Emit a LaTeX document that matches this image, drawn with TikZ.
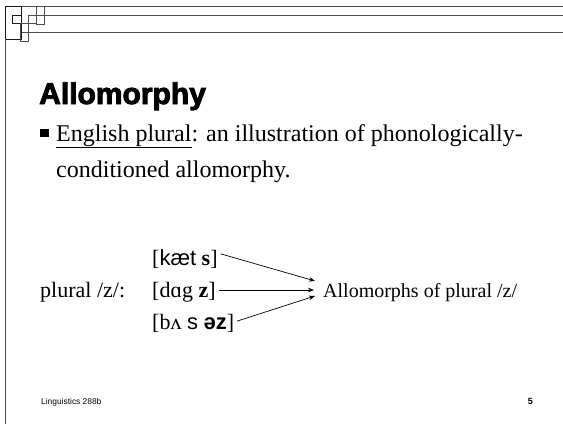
\documentclass[tikz,border=0pt]{standalone}
\usepackage{fontspec}
\setmainfont{Liberation Serif}
\newfontfamily\sansipa{Liberation Sans}
\newfontfamily\titlefont[BoldFeatures={FakeBold=3}]{Liberation Sans}
\usetikzlibrary{arrows.meta}
\tikzset{
  hdr/.style={draw=black!70, line width=0.7pt},
  hdrbox/.style={draw=black!90, line width=0.9pt},
  txt/.style={anchor=base west, inner sep=0pt, font=\fontsize{22}{26}\selectfont},
  body/.style={anchor=base west, inner sep=0pt, font=\fontsize{24}{28}\selectfont},
  arr/.style={-{Stealth[length=6pt,width=4.5pt]}, line width=0.7pt, shorten <=3pt}
}
\begin{document}
\begin{tikzpicture}[x=1pt,y=-1pt]
\useasboundingbox (0,0) rectangle (563,424);
% header ornament
\draw[hdr] (21,6.5) -- (563,6.5);
\draw[hdr] (28,15) -- (563,15);
\draw[hdr] (20,32) -- (563,32);
\draw[hdrbox] (5,6) rectangle (21,39);
\draw[hdrbox] (12,15) rectangle (21,23);
\draw[hdr] (20,23) rectangle (28,41);
\draw[hdr] (21,23) -- (36,23);
\draw[hdr] (28,15) -- (28,32);
\draw[hdr] (36,6) rectangle (44,24);
\draw[black!70, line width=0.7pt] (5,39) -- (5,424);
% title
\node[anchor=base west, inner sep=0pt, font=\titlefont\bfseries\fontsize{30}{32}\selectfont] (title) at (39,104) {Allomorphy};
% bullet
\node[fill=black, minimum size=8.5pt, inner sep=0pt] (bul) at (44.5,133) {};
\node[body] (l1) at (56,141) {\underline{English plural}: an illustration of phonologically-};
\node[body] (l2) at (56,177) {conditioned allomorphy.};
% forms
\node[txt] (f1) at (152,265) {[{\sansipa kæt} \textbf{s}]};
\node[txt] (pl) at (40,297) {plural /z/:};
\node[txt] (f2) at (152,297) {[dɑg \textbf{z}]};
\node[txt] (f3) at (152,329) {[bʌ {\sansipa s} \textbf{\sansipa əz}]};
\node[anchor=base west, inner sep=0pt, font=\fontsize{20}{24}\selectfont] (res) at (323,297) {Allomorphs of plural /z/};
\coordinate (t1) at (315,281);
\coordinate (t2) at (314,290);
\coordinate (t3) at (315,296);
\draw[arr] (f1.east |- 0,253) -- (t1);
\draw[arr] (f2.east |- 0,290) -- (t2);
\draw[arr] (f3.east |- 0,322) -- (t3);
% footer
\node[anchor=base west, inner sep=0pt, font=\sansipa\fontsize{8.4}{10}\selectfont] (foot) at (41,404) {Linguistics 288b};
\node[anchor=base east, inner sep=0pt, font=\sansipa\bfseries\fontsize{9}{10}\selectfont] (num) at (533,404) {5};
\end{tikzpicture}
\end{document}
